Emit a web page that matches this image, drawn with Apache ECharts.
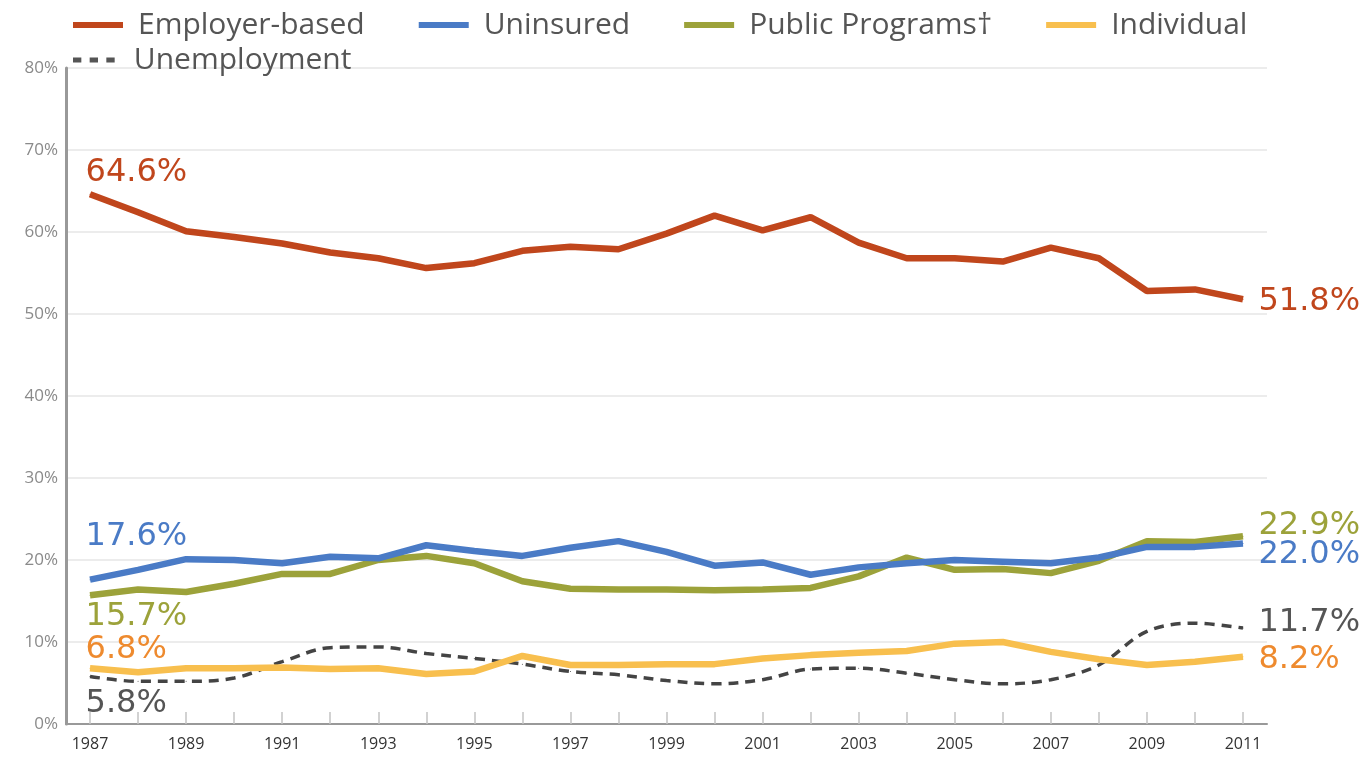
<!DOCTYPE html>
<html><head><meta charset="utf-8">
<script src="https://cdn.jsdelivr.net/npm/echarts@6/dist/echarts.min.js"></script>
<style>html,body{margin:0;padding:0;background:#fff}#c{width:1366px;height:762px}</style>
</head><body><div id="c"></div>
<script>
const years = ['1987','1988','1989','1990','1991','1992','1993','1994','1995','1996','1997','1998','1999','2000','2001','2002','2003','2004','2005','2006','2007','2008','2009','2010','2011'];
const yTicks = [0,10,20,30,40,50,60,70,80];
const employer = [64.6,62.4,60.1,59.4,58.6,57.5,56.8,55.6,56.2,57.7,58.2,57.9,59.8,62.0,60.2,61.8,58.7,56.8,56.8,56.4,58.1,56.8,52.8,53.0,51.8];
const uninsured = [17.6,18.8,20.1,20.0,19.6,20.4,20.2,21.8,21.1,20.5,21.5,22.3,21.0,19.3,19.7,18.2,19.1,19.6,20.0,19.8,19.6,20.3,21.6,21.6,22.0];
const publicProg = [15.7,16.4,16.1,17.1,18.3,18.3,20.0,20.5,19.6,17.4,16.5,16.4,16.4,16.3,16.4,16.6,18.0,20.3,18.8,18.9,18.4,19.9,22.3,22.2,22.9];
const individual = [6.8,6.3,6.8,6.8,6.9,6.7,6.8,6.1,6.4,8.3,7.2,7.2,7.3,7.3,8.0,8.4,8.7,8.9,9.8,10.0,8.8,7.9,7.2,7.6,8.2];
const unemployment = [5.8,5.2,5.2,5.6,7.6,9.3,9.4,8.6,8.0,7.3,6.4,6.0,5.3,4.9,5.4,6.7,6.8,6.2,5.4,4.9,5.4,7.2,11.3,12.3,11.7];

const names = ['Employer-based','Uninsured','Public Programs\u2020','Individual','Unemployment'];
const colors = ['#C0461C','#4A7BC6','#9CA23A','#F8BF4E','#444444'];
const labelColors = ['#C0461C','#4A7BC6','#9CA23A','#EE8A2E','#555555'];
// label offsets [startDy, endDy]
const labelDy = [[-22,2],[-43,11],[21,-11],[-19,3],[27,-5]];
const FONT = '"Open Sans", sans-serif';
const LFONT = '"DejaVu Sans", sans-serif';

function buildData(arr, idx){
  return arr.map((v,i)=>{
    if(i===0 || i===arr.length-1){
      const start = i===0;
      return {value:v, label:{show:true, position:'right', distance:0,
        offset:[start?-5:15, start?labelDy[idx][0]:labelDy[idx][1]],
        formatter: v.toFixed(1)+'%', color:labelColors[idx], fontSize:32, fontFamily:LFONT}};
    }
    return {value:v};
  });
}
const allData = [employer, uninsured, publicProg, individual, unemployment];
const series = allData.map((arr,idx)=>({
  name:names[idx], type:'line', data:buildData(arr,idx),
  symbol:'circle', symbolSize:1, showSymbol:true,
  smooth: idx===4 ? 0.35 : false,
  itemStyle:{color:colors[idx]},
  lineStyle: idx===4 ? {color:colors[idx], width:3.5, type:[10,7]} : {color:colors[idx], width:6.5},
  z: idx===4 ? 1 : 5-idx+2,
  animation:false
}));

const solidIcon = 'path://M0,0h50v6h-50z';
const dashIcon = 'path://M0,0h10v6h-10z M20,0h10v6h-10z M40,0h10v6h-10z';
const legendText = {fontSize:30, color:'#555', fontFamily:FONT, padding:[0,0,0,10]};

const chart = echarts.init(document.getElementById('c'));
chart.setOption({
  backgroundColor:'#fff',
  animation:false,
  legend:[
    {data:names.slice(0,4).map((n,i)=>({name:n, icon:solidIcon, itemStyle:{color:colors[i]}})),
     left:68, top:5, itemWidth:50, itemHeight:6, itemGap:54, textStyle:legendText},
    {data:[{name:names[4], icon:dashIcon, itemStyle:{color:'#555'}}],
     left:68, top:40, itemWidth:50, itemHeight:5, textStyle:legendText}
  ],
  grid:{left:66, right:99, top:68, bottom:38},
  xAxis:{type:'category', data:years, boundaryGap:true,
    axisLine:{lineStyle:{color:'#999', width:2}},
    axisTick:{show:true, inside:true, length:12, alignWithLabel:true, interval:0, lineStyle:{color:'#c4c4c4', width:1.5}},
    axisLabel:{interval:1, color:'#333', fontSize:16, fontFamily:FONT, margin:12},
    splitLine:{show:false}
  },
  yAxis:{type:'value', min:yTicks[0], max:yTicks[yTicks.length-1], interval:10,
    axisLine:{show:true, lineStyle:{color:'#999', width:3}},
    axisTick:{show:false},
    axisLabel:{formatter:'{value}%', color:'#8a8a8a', fontSize:17, fontFamily:FONT, margin:8},
    splitLine:{lineStyle:{color:'#ececec', width:2}}
  },
  series: series
});
</script></body></html>
